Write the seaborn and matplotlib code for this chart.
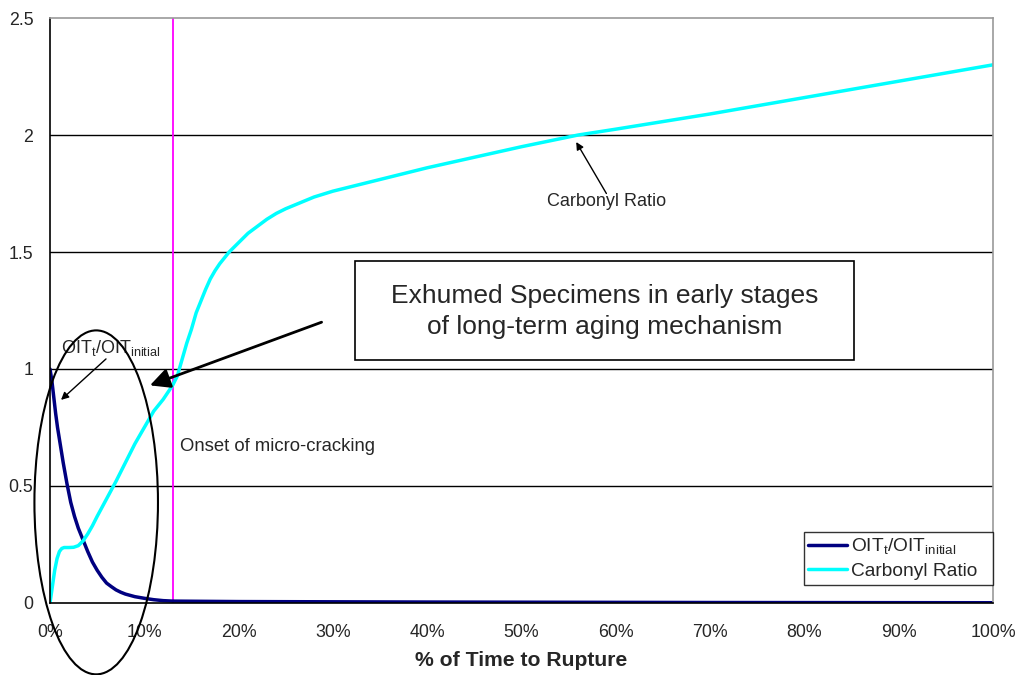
import numpy as np
import pandas as pd
import matplotlib
matplotlib.use("Agg")
import matplotlib.pyplot as plt
import seaborn as sns
from matplotlib.patches import Ellipse, Rectangle
from matplotlib.ticker import FuncFormatter

# values (x in % of time to rupture)
oit_x = [0, 0.2, 0.4, 0.6, 0.8, 1, 1.4, 1.8, 2.2, 2.6, 3, 3.5, 4, 4.5, 5,
         5.5, 6, 6.5, 7, 7.5, 8, 9, 10, 11, 12, 13, 20, 40, 70, 100]
oit_y = [1.0, 0.95, 0.88, 0.81, 0.75, 0.70, 0.60, 0.51, 0.43, 0.37, 0.32,
         0.27, 0.22, 0.175, 0.14, 0.11, 0.085, 0.07, 0.056, 0.046, 0.038,
         0.027, 0.02, 0.014, 0.01, 0.008, 0.006, 0.004, 0.002, 0.001]

carb_x = [0, 0.25, 0.5, 0.75, 1, 1.25, 1.5, 2, 2.5, 3, 3.5, 4, 4.5, 5, 6, 7,
          8, 9, 10, 11, 12, 13, 13.5, 14, 14.5, 15, 15.5, 16, 16.5, 17, 17.5,
          18, 19, 20, 21, 22, 23, 24, 25, 26.5, 28, 30, 33, 36, 40, 45, 50,
          56, 60, 70, 80, 90, 100]
carb_y = [0, 0.07, 0.14, 0.19, 0.22, 0.233, 0.237, 0.237, 0.238, 0.245,
          0.265, 0.295, 0.33, 0.37, 0.445, 0.52, 0.6, 0.68, 0.75, 0.82, 0.87,
          0.93, 0.97, 1.04, 1.11, 1.17, 1.24, 1.29, 1.34, 1.385, 1.42, 1.45,
          1.5, 1.54, 1.58, 1.61, 1.64, 1.665, 1.685, 1.71, 1.735, 1.76, 1.79,
          1.82, 1.86, 1.905, 1.95, 2.0, 2.025, 2.09, 2.16, 2.23, 2.30]

oit_label = r'OIT$_\mathregular{t}$/OIT$_\mathregular{initial}$'
carb_label = 'Carbonyl Ratio'
onset_x = 13

df = pd.concat([
    pd.DataFrame({'time': oit_x, 'value': oit_y, 'series': oit_label}),
    pd.DataFrame({'time': carb_x, 'value': carb_y, 'series': carb_label}),
])

sns.set_style('white')
plt.rcParams['font.family'] = ['Liberation Sans', 'DejaVu Sans']

fig = plt.figure(figsize=(10.16, 6.75), dpi=100)
ax = fig.add_axes([0.0492, 0.1067, 0.9282, 0.8666])

sns.lineplot(data=df, x='time', y='value', hue='series',
             hue_order=[oit_label, carb_label],
             palette=['#000080', '#00FFFF'], linewidth=2.5, ax=ax,
             estimator=None, sort=False, solid_joinstyle='round')

ax.axvline(onset_x, color='#FF00FF', lw=1.3, zorder=1)

ax.set_xlim(0, 100)
ax.set_ylim(0, 2.5)
ax.set_xticks(np.arange(0, 101, 10))
ax.set_yticks([0, 0.5, 1, 1.5, 2, 2.5])
ax.xaxis.set_major_formatter(FuncFormatter(lambda v, p: f'{v:.0f}%'))
ax.yaxis.set_major_formatter(FuncFormatter(lambda v, p: f'{v:g}'))
ax.tick_params(axis='x', direction='out', length=5, width=1, labelsize=12.8, pad=10)
ax.tick_params(axis='y', direction='inout', length=9, width=1, labelsize=12.8, pad=7.5)
for yv in [0.5, 1, 1.5, 2]:
    ax.axhline(yv, color='black', lw=1, zorder=0)

ax.spines['left'].set_color('black')
ax.spines['bottom'].set_color('black')
ax.spines['top'].set_color('#999999')
ax.spines['right'].set_color('#999999')
for s in ax.spines.values():
    s.set_linewidth(1.2)

ax.set_xlabel('% of Time to Rupture', fontsize=15.2, fontweight='bold', labelpad=7)
ax.set_ylabel('')

handles, labels = ax.get_legend_handles_labels()
leg = ax.legend(handles, [l + '  ' for l in labels],
                loc='lower right', bbox_to_anchor=(0.9995, 0.031), fontsize=13.8,
                frameon=True, fancybox=False, edgecolor='black',
                handlelength=2.0, borderpad=0.25, labelspacing=0.3,
                handletextpad=0.2, borderaxespad=0)
leg.get_frame().set_linewidth(1)

# annotations
ax.text(6.4, 1.09, oit_label, fontsize=13, ha='center', va='center')
ax.annotate('', xy=(1.17, 0.868), xytext=(5.94, 1.043),
            arrowprops=dict(arrowstyle='-|>', color='black', lw=1,
                            mutation_scale=11, shrinkA=0, shrinkB=0))
ax.text(59.0, 1.715, carb_label, fontsize=13, ha='center', va='center')
ax.annotate('', xy=(55.8, 1.97), xytext=(59.0, 1.75),
            arrowprops=dict(arrowstyle='-|>', color='black', lw=1,
                            mutation_scale=11, shrinkA=0, shrinkB=0))
ax.annotate('', xy=(10.6, 0.93), xytext=(28.8, 1.20),
            arrowprops=dict(arrowstyle='-|>', color='black', lw=2,
                            mutation_scale=30, shrinkA=0, shrinkB=0))
ax.add_patch(Rectangle((32.3, 1.04), 53.0, 0.42, facecolor='white',
                       edgecolor='black', lw=1.2, zorder=4))
ax.text(58.8, 1.245, 'Exhumed Specimens in early stages\nof long-term aging mechanism',
        fontsize=19, ha='center', va='center', linespacing=1.35, zorder=5)
ax.text(13.8, 0.67, 'Onset of micro-cracking', fontsize=13.3, ha='left', va='center')

ell = Ellipse((4.9, 0.43), width=13.1, height=1.47, fill=False,
              edgecolor='black', lw=1.5, clip_on=False, zorder=5)
ax.add_patch(ell)

fig.savefig('out.png', dpi=100)
